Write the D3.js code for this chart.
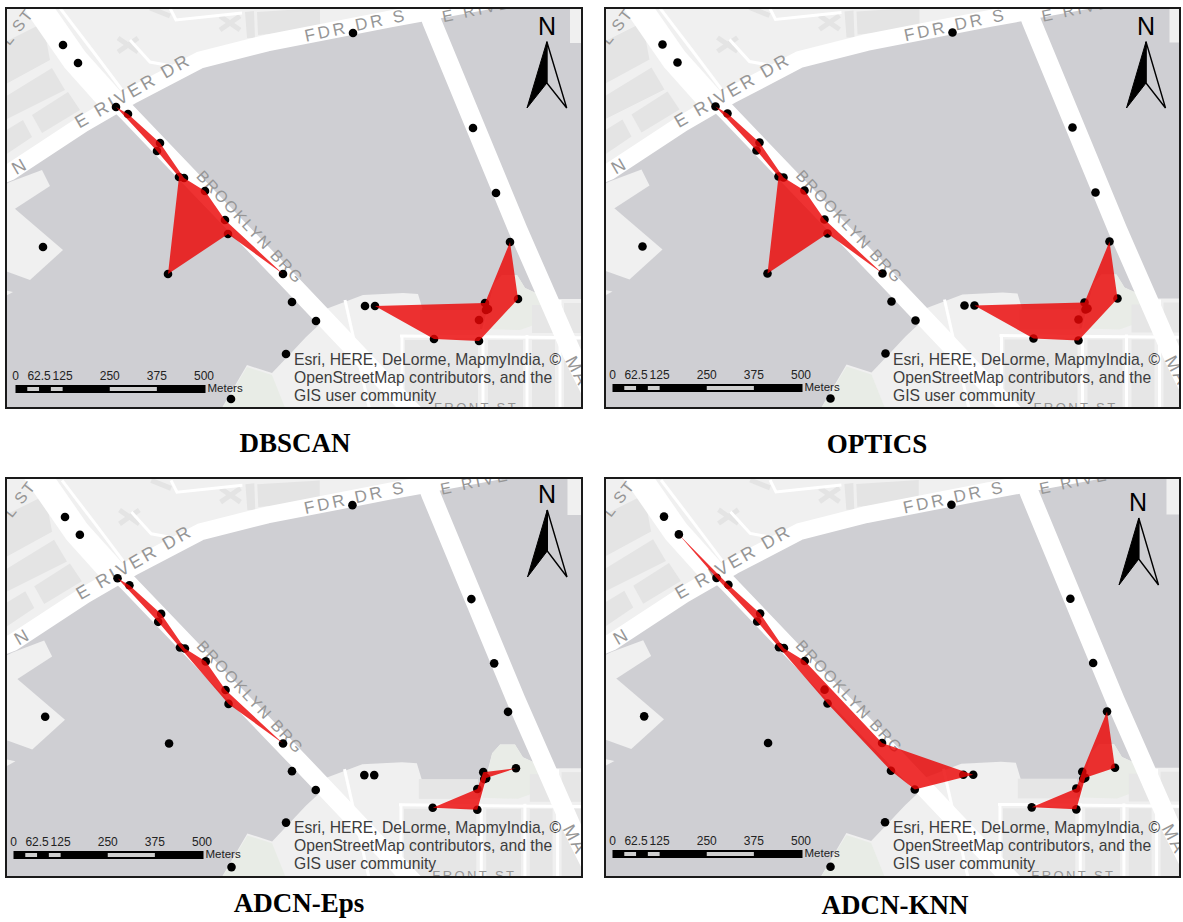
<!DOCTYPE html>
<html><head><meta charset="utf-8">
<style>html,body{margin:0;padding:0;background:#fff}svg{display:block}</style>
<script src="https://cdn.jsdelivr.net/npm/d3@7/dist/d3.min.js"></script>
</head><body><div id="c"></div>
<script>
// ---- data -------------------------------------------------------
const methods = ["DBSCAN","OPTICS","ADCN-Eps","ADCN-KNN"];
const pointX = [63,78,116,128,160,157,179,184,205,225,228,283,292,316,168,43,353,473,496,510,518,485,488,486,479,479,434,375,365,286,231];
const pointY = [45,63,107,114,143,151,177,178,191,220,234,274,302,321,274,247,33,128,193,242,299,303,309,310,320,341,339,306,306,354,399];
const clusters = [
  [[2,3,4,7,8,9,11,10,14,6,5],[27,26,25,20,19,21]],
  [[2,3,4,7,8,9,11,10,14,6,5],[27,26,25,20,19,21]],
  [[2,3,4,7,8,9,11,10,6,5],[26,24,21,20,22,25]],
  [[1,3,4,7,8,11,27,13,12,10,6,5,2],[26,25,22,20,19,21,24]]
];
const scaleTicks = [0,62.5,125,250,375,500];
const scaleGrey = [[31.25,62.5],[93.75,125],[250,375]];
const creditLines = ["Esri, HERE, DeLorme, MapmyIndia, ©","OpenStreetMap contributors, and the","GIS user community"];
// base map, map units
const landNorth = [[-20,184],[10,164],[83,115],[133,87],[200,52],[267,35],[390,12],[440,0],[600,-30],[-20,-30]];
const landSW1 = [[-20,197],[10,182],[42,170],[50,186],[10,212],[-20,226]];
const landSW2 = [[-20,200],[14,208],[63,250],[30,280],[-20,262]];
const landSW3 = [[-20,285],[13,292],[-20,310]];
const landSouth = [[212,425],[247,365],[272,373],[292,352],[306,337],[322,322],[480,425]];
const landEast = [[318,312],[363,295],[403,293],[418,294],[424,314],[439,328],[482,329],[494,284],[502,275],[517,275],[525,288],[549,299],[600,299],[600,425],[340,425]];
const landNE = [[570,-10],[600,-10],[600,43],[570,43]];
const park = [[484,329],[494,284],[502,275],[517,275],[525,288],[549,299],[548,320],[520,330]];
const parkSouth = [[212,425],[247,367],[272,375],[292,425]];
const blocks = [[405,340,478,420],[488,340,523,420],[532,340,555,420],[564,340,600,420],[420,310,480,330],[532,305,558,333],[564,303,600,333]];
const nwBlocks = [
 [[-5,47],[43,23],[50,60],[-5,90]],[[-5,103],[52,68],[65,90],[-5,125]],
 [[32,115],[68,92],[80,110],[42,133]],[[-5,137],[23,120],[32,137],[-5,162]],
 [[257,12],[320,8],[320,30],[258,35]],[[245,12],[254,11],[255,38],[247,38]]
];
const roadMain = [[-20,184],[10,172],[83,124],[133,95],[200,60],[267,43],[390,19],[450,8],[600,-20]];
const roadBridge = [[90,76],[127,112],[190,178],[290,282],[345,340],[432,432]];
const roadManhattan = [[422,-5],[432,22],[518,230],[575,360],[610,430]];
const roadNW = [[30,-5],[75,60],[118,108]];
const thinRoads = [
 [[60,8],[92,50],[122,90]],[[130,40],[150,62],[172,66]],[[170,8],[176,20],[242,13]],
 [[402,335],[402,420]],[[400,336],[600,338]],[[483,335],[483,420]],[[527,335],[527,420]],[[560,300],[560,420]],[[345,300],[372,420]]
];
const faintMarks = [[[118,38],[138,52]],[[138,38],[118,52]],[[220,16],[240,30]],[[240,16],[220,30]],[[150,8],[170,16]]];
const mapLabels = [
 {t:"E RIVER DR",x:136,y:96,a:-30,s:18,ls:2.8},
 {t:"N",x:22,y:172,a:-30,s:18,ls:0},
 {t:"FDR DR S",x:357,y:31,a:-12,s:17,ls:3},
 {t:"E RIVE",x:478,y:15,a:-12,s:16,ls:3},
 {t:"BROOKLYN BRG",x:246,y:231,a:47,s:16,ls:1.8},
 {t:"L ST",x:22,y:30,a:-52,s:16,ls:2},
 {t:"FRONT ST",x:476,y:412,a:0,s:13,ls:2.4},
 {t:"MA",x:572,y:374,a:62,s:18,ls:2}
];
// ---- layout -----------------------------------------------------
const W=1183,H=922;
const panels=[
 {x0:6,x1:582,y0:8,y1:408,mx:[6,582],my:[8,408],bar:[15.5,385],credit:[294,365,382.7,400.7],north:[527,566.7,41.7,83,108,547,35,25],title:[295,452]},
 {x0:605,x1:1180,y0:8,y1:408,mx:[605.5,1181.5],my:[7.5,407.5],bar:[612.5,384],credit:[893,365,382.7,400.7],north:[1126.5,1165.5,41.7,83,108,1146,35,25],title:[877,453]},
 {x0:6,x1:582,y0:478,y1:877,mx:[8.5,579.4],my:[480.4,876],bar:[13.5,851],credit:[294,833,851,868.5],north:[527.5,567,510,551,577,547,503,25],title:[299,912]},
 {x0:605,x1:1180,y0:478,y1:877,mx:[607.5,1178.4],my:[480,875.6],bar:[612.5,850],credit:[893,833,851,869],north:[1119,1158.5,518,559,585,1138,511,25],title:[895,914]}
];
const svg=d3.select("#c").append("svg").attr("width",W).attr("height",H).attr("viewBox",[0,0,W,H]);
const sans="'Liberation Sans',Arial,sans-serif";
panels.forEach((p,i)=>{
  const g=svg.append("g");
  const cid="clip"+i;
  g.append("clipPath").attr("id",cid).append("rect").attr("x",p.x0).attr("y",p.y0).attr("width",p.x1-p.x0).attr("height",p.y1-p.y0);
  const X=d3.scaleLinear().domain([6,582]).range(p.mx);
  const Y=d3.scaleLinear().domain([8,408]).range(p.my);
  const line=d3.line().x(d=>X(d[0])).y(d=>Y(d[1]));
  const poly=d=>line(d)+"Z";
  const m=g.append("g").attr("clip-path",`url(#${cid})`);
  m.append("rect").attr("x",p.x0).attr("y",p.y0).attr("width",p.x1-p.x0).attr("height",p.y1-p.y0).attr("fill","#cfcfd3");
  [landNorth,landSW1,landSW2,landSW3,landSouth,landEast,landNE].forEach(d=>m.append("path").attr("d",poly(d)).attr("fill","#f0f0f0"));
  m.append("path").attr("d",poly(park)).attr("fill","#e9ece7");
  m.append("path").attr("d",poly(parkSouth)).attr("fill","#e8ece6");
  blocks.forEach(b=>m.append("rect").attr("x",X(b[0])).attr("y",Y(b[1])).attr("width",X(b[2])-X(b[0])).attr("height",Y(b[3])-Y(b[1])).attr("fill","#e6e6e6"));
  nwBlocks.forEach(d=>m.append("path").attr("d",poly(d)).attr("fill","#e4e4e4"));
  faintMarks.forEach(d=>m.append("path").attr("d",line(d)).attr("fill","none").attr("stroke","#e4e4e4").attr("stroke-width",5));
  thinRoads.forEach(d=>m.append("path").attr("d",line(d)).attr("fill","none").attr("stroke","#fff").attr("stroke-width",3));
  m.append("path").attr("d",line(roadNW)).attr("fill","none").attr("stroke","#fff").attr("stroke-width",26);
  m.append("path").attr("d",line(roadMain)).attr("fill","none").attr("stroke","#fff").attr("stroke-width",17);
  m.append("path").attr("d",line(roadBridge)).attr("fill","none").attr("stroke","#fff").attr("stroke-width",18);
  m.append("path").attr("d",line(roadManhattan)).attr("fill","none").attr("stroke","#fff").attr("stroke-width",19);
  mapLabels.forEach(l=>m.append("text").text(l.t)
    .attr("transform",`translate(${X(l.x)},${Y(l.y)}) rotate(${l.a})`)
    .attr("text-anchor","middle").attr("font-family",sans).attr("font-size",l.s).attr("letter-spacing",l.ls).attr("fill","#969696"));
  // points, then translucent clusters above
  m.append("g").selectAll("circle").data(pointX.map((x,k)=>[x,pointY[k]])).join("circle")
    .attr("cx",d=>X(d[0])).attr("cy",d=>Y(d[1])).attr("r",4.3).attr("fill","#000");
  m.append("g").selectAll("path").data(clusters[i]).join("path")
    .attr("d",c=>poly(c.map(k=>[pointX[k],pointY[k]])))
    .attr("fill","#ea0505").attr("fill-opacity",.82);
  // credit
  creditLines.forEach((t,k)=>g.append("text").text(t).attr("x",p.credit[0]).attr("y",p.credit[k+1])
    .attr("font-family",sans).attr("font-size",15.7).attr("fill","#3d3d3d"));
  // scale bar
  const S=d3.scaleLinear().domain([0,500]).range([p.bar[0],p.bar[0]+188.5]);
  const by=p.bar[1];
  g.append("rect").attr("x",S(0)).attr("y",by).attr("width",190).attr("height",8).attr("fill","#000");
  scaleGrey.forEach(s=>g.append("rect").attr("x",S(s[0])).attr("y",by+2).attr("width",S(s[1])-S(s[0])).attr("height",4).attr("fill","#cfcfcf"));
  scaleTicks.forEach(t=>g.append("text").text(t).attr("x",S(t)).attr("y",by-5).attr("text-anchor","middle")
    .attr("font-family",sans).attr("font-size",12).attr("fill","#222"));
  g.append("text").text("Meters").attr("x",S(500)+3.5).attr("y",by+7).attr("font-family",sans).attr("font-size",11.5).attr("fill","#222");
  // north arrow
  const [l,r,top,mid,bot,nx,ny,ns]=p.north; const c=(l+r)/2;
  g.append("path").attr("d",`M${c},${top}L${l},${bot}L${c},${mid}Z`).attr("fill","#000").attr("stroke","#000");
  g.append("path").attr("d",`M${c},${top}L${r},${bot}L${c},${mid}Z`).attr("fill","none").attr("stroke","#000").attr("stroke-width",1.4);
  g.append("text").text("N").attr("x",nx).attr("y",ny).attr("text-anchor","middle").attr("font-family",sans).attr("font-size",ns).attr("fill","#000");
  // frame
  g.append("rect").attr("x",p.x0).attr("y",p.y0).attr("width",p.x1-p.x0).attr("height",p.y1-p.y0).attr("fill","none").attr("stroke","#1a1a1a").attr("stroke-width",2);
  // title
  g.append("text").text(methods[i]).attr("x",p.title[0]).attr("y",p.title[1]).attr("text-anchor","middle")
    .attr("font-family","'Liberation Serif','Times New Roman',serif").attr("font-weight","bold").attr("font-size",27).attr("fill","#000");
});
</script></body></html>
